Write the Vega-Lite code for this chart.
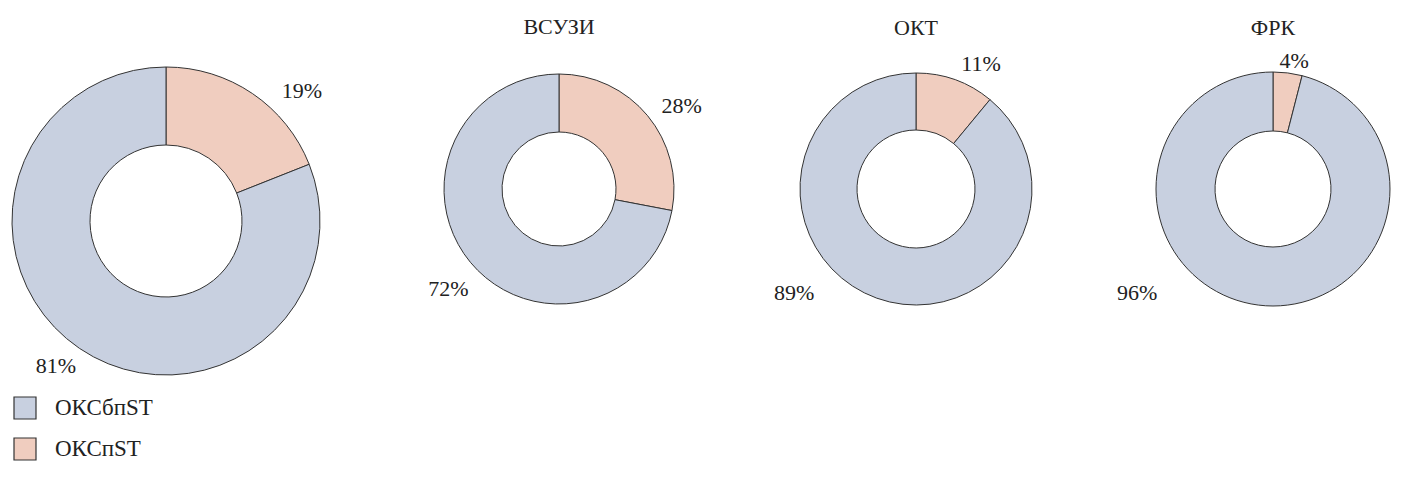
{
  "$schema": "https://vega.github.io/schema/vega-lite/v6.json",
  "padding": {"left": 0, "top": 16, "right": 0, "bottom": 0},
  "spacing": 97,
  "bounds": "flush",
  "background": "white",
  "config": {
    "view": {"stroke": null},
    "font": "Liberation Serif",
    "title": {"font": "Liberation Serif", "fontSize": 22, "fontWeight": "normal", "color": "#222222", "baseline": "alphabetic", "frame": "group"},
    "legend": {"labelFont": "Liberation Serif", "labelFontSize": 23, "labelColor": "#222222"}
  },
  "data": {
    "values": [
      {"chart": "all", "group": "ОКСпST", "ord": 1, "value": 19},
      {"chart": "all", "group": "ОКСбпST", "ord": 2, "value": 81},
      {"chart": "ВСУЗИ", "group": "ОКСпST", "ord": 1, "value": 28},
      {"chart": "ВСУЗИ", "group": "ОКСбпST", "ord": 2, "value": 72},
      {"chart": "ОКТ", "group": "ОКСпST", "ord": 1, "value": 11},
      {"chart": "ОКТ", "group": "ОКСбпST", "ord": 2, "value": 89},
      {"chart": "ФРК", "group": "ОКСпST", "ord": 1, "value": 4},
      {"chart": "ФРК", "group": "ОКСбпST", "ord": 2, "value": 96}
    ]
  },
  "resolve": {"scale": {"theta": "independent"}},
  "hconcat": [
    {
      "width": 332,
      "height": 320,
      "transform": [{"filter": "datum.chart === 'all'"}, {"calculate": "datum.value + '%'", "as": "label"}],
      "encoding": {
        "theta": {"field": "value", "type": "quantitative", "stack": true},
        "order": {"field": "ord", "type": "quantitative"}
      },
      "layer": [
        {
          "mark": {"type": "arc", "innerRadius": 76, "outerRadius": 154, "stroke": "#333333", "strokeWidth": 1},
          "encoding": {
            "color": {
              "field": "group", "type": "nominal",
              "scale": {"domain": ["ОКСбпST", "ОКСпST"], "range": ["#C8D0E0", "#F0CDBF"]},
              "legend": {
                "title": null, "orient": "none", "legendX": 13, "legendY": 335,
                "symbolType": "square", "symbolSize": 484, "symbolStrokeColor": "#333333", "symbolStrokeWidth": 1.2,
                "symbolOpacity": 1, "labelOffset": 18, "rowPadding": 13
              }
            }
          }
        },
        {
          "mark": {"type": "text", "radius": 188, "thetaOffset": 0.211, "fontSize": 22, "color": "#222222"},
          "encoding": {"text": {"condition": {"test": "datum.ord === 1", "field": "label"}, "value": ""}}
        },
        {
          "mark": {"type": "text", "radius": 182, "thetaOffset": 0.052, "fontSize": 22, "color": "#222222"},
          "encoding": {"text": {"condition": {"test": "datum.ord === 2", "field": "label"}, "value": ""}}
        }
      ]
    },
    {
      "width": 260,
      "height": 256,
      "title": {"text": "ВСУЗИ", "offset": 22},
      "transform": [{"filter": "datum.chart === 'ВСУЗИ'"}, {"calculate": "datum.value + '%'", "as": "label"}],
      "encoding": {
        "theta": {"field": "value", "type": "quantitative", "stack": true},
        "order": {"field": "ord", "type": "quantitative"}
      },
      "layer": [
        {
          "mark": {"type": "arc", "innerRadius": 57, "outerRadius": 115, "stroke": "#333333", "strokeWidth": 1},
          "encoding": {"color": {"field": "group", "type": "nominal"}}
        },
        {
          "mark": {"type": "text", "radius": 148, "thetaOffset": 0.098, "fontSize": 22, "color": "#222222"},
          "encoding": {"text": {"condition": {"test": "datum.ord === 1", "field": "label"}, "value": ""}}
        },
        {
          "mark": {"type": "text", "radius": 149, "thetaOffset": -0.042, "fontSize": 22, "color": "#222222"},
          "encoding": {"text": {"condition": {"test": "datum.ord === 2", "field": "label"}, "value": ""}}
        }
      ]
    },
    {
      "width": 260,
      "height": 256,
      "title": {"text": "ОКТ", "offset": 13},
      "transform": [{"filter": "datum.chart === 'ОКТ'"}, {"calculate": "datum.value + '%'", "as": "label"}],
      "encoding": {
        "theta": {"field": "value", "type": "quantitative", "stack": true},
        "order": {"field": "ord", "type": "quantitative"}
      },
      "layer": [
        {
          "mark": {"type": "arc", "innerRadius": 59, "outerRadius": 116, "stroke": "#333333", "strokeWidth": 1},
          "encoding": {"color": {"field": "group", "type": "nominal"}}
        },
        {
          "mark": {"type": "text", "radius": 141, "thetaOffset": 0.134, "fontSize": 22, "color": "#222222"},
          "encoding": {"text": {"condition": {"test": "datum.ord === 1", "field": "label"}, "value": ""}}
        },
        {
          "mark": {"type": "text", "radius": 160, "thetaOffset": 0.52, "fontSize": 22, "color": "#222222"},
          "encoding": {"text": {"condition": {"test": "datum.ord === 2", "field": "label"}, "value": ""}}
        }
      ]
    },
    {
      "width": 260,
      "height": 256,
      "title": {"text": "ФРК", "offset": 10},
      "transform": [{"filter": "datum.chart === 'ФРК'"}, {"calculate": "datum.value + '%'", "as": "label"}],
      "encoding": {
        "theta": {"field": "value", "type": "quantitative", "stack": true},
        "order": {"field": "ord", "type": "quantitative"}
      },
      "layer": [
        {
          "mark": {"type": "arc", "innerRadius": 58, "outerRadius": 117, "stroke": "#333333", "strokeWidth": 1},
          "encoding": {"color": {"field": "group", "type": "nominal"}}
        },
        {
          "mark": {"type": "text", "radius": 130, "thetaOffset": 0.037, "fontSize": 22, "color": "#222222"},
          "encoding": {"text": {"condition": {"test": "datum.ord === 1", "field": "label"}, "value": ""}}
        },
        {
          "mark": {"type": "text", "radius": 171, "thetaOffset": 0.792, "fontSize": 22, "color": "#222222"},
          "encoding": {"text": {"condition": {"test": "datum.ord === 2", "field": "label"}, "value": ""}}
        }
      ]
    }
  ]
}
